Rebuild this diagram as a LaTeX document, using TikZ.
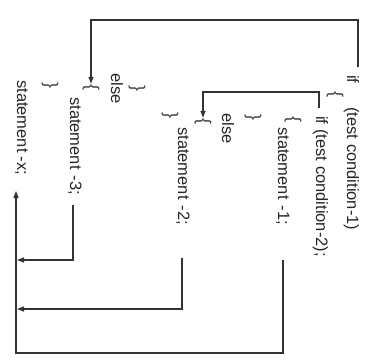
\documentclass[tikz,border=0pt]{standalone}
\usepackage{fontspec}
\setmainfont{Liberation Sans}
\usetikzlibrary{arrows.meta,calc}
\begin{document}
\begin{tikzpicture}[x=1pt,y=-1pt,
  txt/.style={rotate=-90,anchor=base west,inner sep=0pt,font=\fontsize{16.5}{20}\selectfont,text=black!85},
  brc/.style={rotate=-90,inner sep=0pt,font=\fontsize{18}{20}\selectfont,text=black!75},
  conn/.style={line width=1.3pt,draw=black!80},
  arr/.style={conn,-{Triangle[length=7pt,width=5pt]}}]
\useasboundingbox (0,0) rectangle (366,360);
% code lines (rotated)
\node[txt] (l1) at (347,75) {if\hspace{24pt}(test condition-1)};
\node[txt] (l2) at (316,116) {if\hspace{5pt}(test condition-2);};
\node[txt] (l3) at (278,127) {statement\hspace{6pt}-1;};
\node[txt] (l4) at (222,113) {else};
\node[txt] (l5) at (178,127) {statement\hspace{6pt}-2;};
\node[txt] (l6) at (111,73) {else};
\node[txt] (l7) at (70,97) {statement\hspace{6pt}-3;};
\node[txt] (lx) at (17,80) {statement\hspace{4pt}-x;};
% braces
\node[brc] (b1) at (335,94) {\{};
\node[brc] (b2) at (293,119) {\{};
\node[brc] (b3) at (253,117) {\}};
\node[brc] (b4) at (203,121) {\{};
\node[brc] (b5) at (170,115) {\}};
\node[brc] (b6) at (137,88) {\}};
\node[brc] (b7) at (91,87) {\{};
\node[brc] (b8) at (50,85) {\}};
% connector points
\coordinate (s1) at (358,67);
\coordinate (t1) at (358,20);
\coordinate (s2) at (319,108);
\coordinate (t2) at (319,92);
\coordinate (s3) at (283,260);
\coordinate (c3) at (283,353);
\coordinate (c0) at (16,353);
\coordinate (ex) at (16,191);
\coordinate (s4) at (182,258);
\coordinate (j4) at (17,309);
\coordinate (s5) at (73,205);
\coordinate (j5) at (17,260);
% connectors
\draw[arr] (s1) -- (t1) -| (b7.west);
\draw[arr] (s2) -- (t2) -| (b4.west);
\draw[arr] (s3) -- (c3) -- (c0) -- (ex);
\draw[arr] (s4) |- (j4);
\draw[arr] (s5) |- (j5);
\end{tikzpicture}
\end{document}
